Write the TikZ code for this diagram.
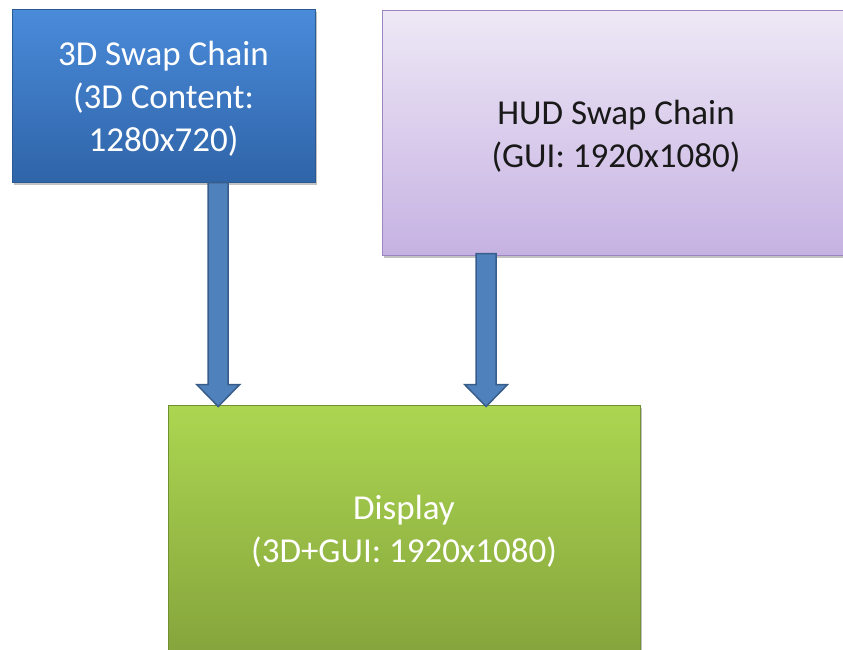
\documentclass[tikz,border=0pt]{standalone}
\usepackage{fontspec}
\setmainfont{Carlito}
\usetikzlibrary{calc,shadows}
\definecolor{bluetop}{HTML}{4A8BDA}
\definecolor{bluebot}{HTML}{2F64A8}
\definecolor{blueedge}{HTML}{2A5A94}
\definecolor{purtop}{HTML}{EEE8F6}
\definecolor{purbot}{HTML}{C6B2E2}
\definecolor{puredge}{HTML}{9C86C2}
\definecolor{grntop}{HTML}{ACD651}
\definecolor{grnbot}{HTML}{85A43C}
\definecolor{grnedge}{HTML}{71902F}
\definecolor{arrfill}{HTML}{4F81BD}
\definecolor{arredge}{HTML}{385D8A}
\tikzset{
  box/.style={rectangle, inner sep=0pt, align=center, line width=1pt,
    font=\fontsize{35}{43}\selectfont,
    drop shadow={shadow xshift=1.5pt, shadow yshift=-2.5pt, opacity=0.4, fill=black!60}},
  bluebox/.style={box, draw=blueedge, top color=bluetop, bottom color=bluebot, text=white},
  purbox/.style={box, draw=puredge, top color=purtop, bottom color=purbot, text=black!90},
  grnbox/.style={box, draw=grnedge, top color=grntop, bottom color=grnbot, text=white},
  fatarrow/.style={fill=arrfill, draw=arredge, line width=1.5pt, line join=miter}
}
\begin{document}
\begin{tikzpicture}[x=1pt,y=1pt]
\useasboundingbox (0,0) rectangle (843,-649);
\node[bluebox, minimum width=303pt, minimum height=173pt] (blue) at (163.5,-95.5)
  {\raisebox{-3pt}[\height][\depth]{\parbox{300pt}{\centering 3D Swap Chain\\(3D Content:\\1280x720)}}};
\node[purbox, minimum width=468pt, minimum height=245pt] (hud) at (616,-132.5)
  {\raisebox{-4pt}[\height][\depth]{\parbox{460pt}{\centering HUD Swap Chain\\(GUI: 1920x1080)}}};
\node[grnbox, minimum width=472pt, minimum height=250pt] (disp) at (404,-530)
  {\raisebox{-1pt}[\height][\depth]{\parbox{460pt}{\centering Display\\(3D+GUI: 1920x1080)}}};
\coordinate (a1) at ($(blue.south west)!0.68!(blue.south east)$);
\coordinate (a2) at ($(a1 |- disp.north)+(0,-2)$);
\coordinate (b1) at ($(hud.south west)!0.223!(hud.south east)+(0,2)$);
\coordinate (b2) at ($(b1 |- disp.north)+(0,-2)$);
\draw[fatarrow] let \p1=(a1), \p2=(a2) in
  (\x1-10,\y1) -- (\x1+10,\y1) -- (\x1+10,\y2+22) -- (\x1+21.5,\y2+22) --
  (\x1,\y2) -- (\x1-21.5,\y2+22) -- (\x1-10,\y2+22) -- cycle;
\draw[fatarrow] let \p1=(b1), \p2=(b2) in
  (\x1-10,\y1) -- (\x1+10,\y1) -- (\x1+10,\y2+22) -- (\x1+21.5,\y2+22) --
  (\x1,\y2) -- (\x1-21.5,\y2+22) -- (\x1-10,\y2+22) -- cycle;
\end{tikzpicture}
\end{document}
